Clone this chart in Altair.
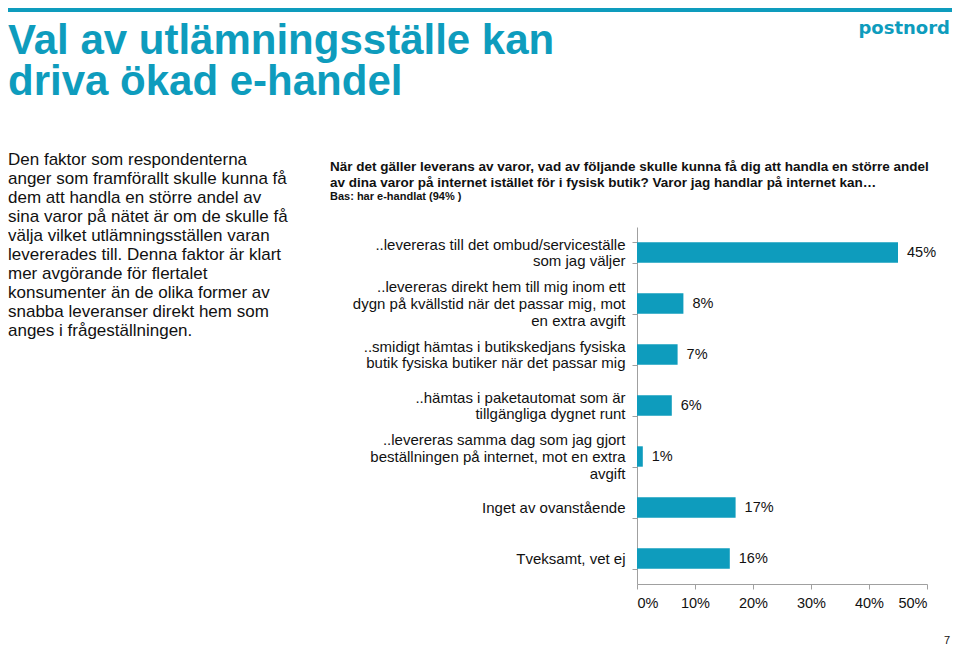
import altair as alt
import pandas as pd

# ---- data ----
categories = [
    "..levereras till det ombud/serviceställe|som jag väljer",
    "..levereras direkt hem till mig inom ett|dygn på kvällstid när det passar mig, mot|en extra avgift",
    "..smidigt hämtas i butikskedjans fysiska|butik fysiska butiker när det passar mig",
    "..hämtas i paketautomat som är|tillgängliga dygnet runt",
    "..levereras samma dag som jag gjort|beställningen på internet, mot en extra|avgift",
    "Inget av ovanstående",
    "Tveksamt, vet ej",
]
values = [45, 8, 7, 6, 1, 17, 16]
x_ticks = [0, 10, 20, 30, 40, 50]

title_lines = ["Val av utlämningsställe kan", "driva ökad e-handel"]
body_lines = [
    "Den faktor som respondenterna",
    "anger som framförallt skulle kunna få",
    "dem att handla en större andel av",
    "sina varor på nätet är om de skulle få",
    "välja vilket utlämningsställen varan",
    "levererades till. Denna faktor är klart",
    "mer avgörande för flertalet",
    "konsumenter än de olika former av",
    "snabba leveranser direkt hem som",
    "anges i frågeställningen.",
]
question_lines = [
    "När det gäller leverans av varor, vad av följande skulle kunna få dig att handla en större andel",
    "av dina varor på internet istället för i fysisk butik? Varor jag handlar på internet kan…",
]
base_note = "Bas: har e-handlat (94% )"
logo_text = "postnord"
page_no = "7"

BLUE = "#0e9cbd"
FONT = "Liberation Sans"
INK = "#111111"
GREY = "#a0a0a0"
LH = 16.8

df = pd.DataFrame({
    "cat": categories,
    "val": values,
    "lab": [f"{v}%" for v in values],
})

base = alt.Chart(df)

y_enc = alt.Y(
    "cat:N",
    sort=categories,
    scale=alt.Scale(paddingInner=0.6, paddingOuter=0.3),
    axis=alt.Axis(
        title=None,
        labelExpr="split(datum.label, '|')",
        labelFont=FONT,
        labelFontSize=15,
        labelLineHeight=LH,
        labelOffset=alt.ExprRef(expr=f"-(length(split(datum.value, '|')) - 1) * {LH / 2}"),
        labelColor=INK,
        labelPadding=7,
        labelLimit=0,
        tickBand="extent",
        tickSize=5,
        tickColor=GREY,
        domainColor=GREY,
    ),
)
x_enc = alt.X(
    "val:Q",
    scale=alt.Scale(domain=[0, 50]),
    axis=alt.Axis(
        title=None,
        values=x_ticks,
        labelExpr="datum.value + '%'",
        labelFont=FONT,
        labelFontSize=14.5,
        labelColor=INK,
        labelPadding=7,
        tickSize=5,
        tickColor=GREY,
        domainColor=GREY,
        grid=False,
    ),
)

bars = base.mark_bar(color=BLUE).encode(y=y_enc, x=x_enc)
labels = base.mark_text(
    align="left", baseline="middle", dx=9, font=FONT, fontSize=14.5, color=INK
).encode(y=alt.Y("cat:N", sort=categories), x="val:Q", text="lab:N")

one = alt.Data(values=[{}])

# origin of plot area in page coords: (637, 227)
OX, OY = 637, 227

top_line = alt.Chart(one).mark_rule(color=BLUE, strokeWidth=4).encode(
    x=alt.value(8 - OX), x2=alt.value(952 - OX), y=alt.value(10 - OY)
)
title = alt.Chart(one).mark_text(
    text=title_lines, align="left", baseline="alphabetic", font=FONT,
    fontSize=42, fontWeight="bold", lineHeight=41, color=BLUE,
).encode(x=alt.value(8 - OX), y=alt.value(54 - OY))
logo = alt.Chart(one).mark_text(
    text=logo_text, align="right", baseline="alphabetic", font="DejaVu Sans",
    fontSize=18, fontWeight="bold", color=BLUE,
).encode(x=alt.value(950 - OX), y=alt.value(34 - OY))
body = alt.Chart(one).mark_text(
    text=body_lines, align="left", baseline="alphabetic", font=FONT,
    fontSize=17, lineHeight=19, color=INK,
).encode(x=alt.value(8 - OX), y=alt.value(165 - OY))
question = alt.Chart(one).mark_text(
    text=question_lines, align="left", baseline="alphabetic", font=FONT,
    fontSize=13.5, fontWeight="bold", lineHeight=16, color=INK,
).encode(x=alt.value(330 - OX), y=alt.value(171 - OY))
note = alt.Chart(one).mark_text(
    text=base_note, align="left", baseline="alphabetic", font=FONT,
    fontSize=11, fontWeight="bold", color=INK,
).encode(x=alt.value(330 - OX), y=alt.value(200 - OY))
page = alt.Chart(one).mark_text(
    text=page_no, align="right", baseline="alphabetic", font=FONT,
    fontSize=11, color=INK,
).encode(x=alt.value(950 - OX), y=alt.value(644 - OY))

chart = alt.layer(
    bars, labels, top_line, title, logo, body, question, note, page
).properties(
    width=290,
    height=357,
    autosize=alt.AutoSizeParams(type="none"),
    padding={"left": 629, "top": 219, "right": 25, "bottom": 62},
).configure_view(stroke=None)

chart.save("out.html", embed_options={"renderer": "svg", "actions": False})
